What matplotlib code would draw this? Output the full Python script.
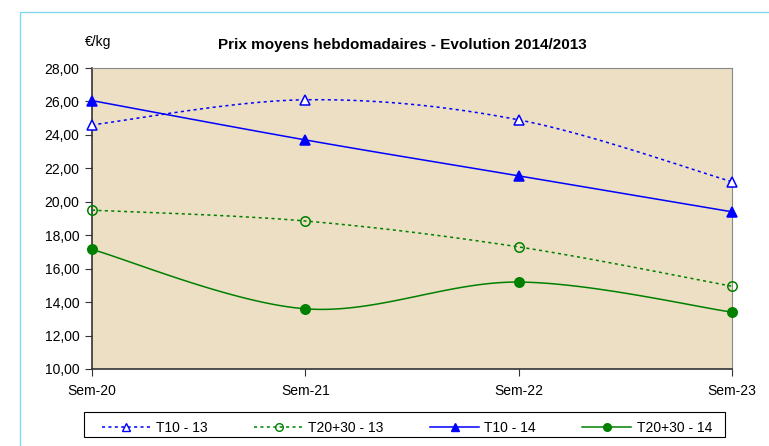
import numpy as np
import matplotlib.pyplot as plt
from matplotlib.patches import Rectangle
from matplotlib.lines import Line2D

plt.rcParams['font.family'] = ['Liberation Sans', 'DejaVu Sans']

weeks = ['Sem-20', 'Sem-21', 'Sem-22', 'Sem-23']
t10_13 = [24.6, 26.1, 24.9, 21.2]
t2030_13 = [19.5, 18.85, 17.3, 14.95]
t10_14 = [26.05, 23.7, 21.55, 19.4]
t2030_14 = [17.15, 13.6, 15.2, 13.4]

def smooth(y, n=40):
    # excel-like smoothed line (bezier through points)
    y = np.asarray(y, float)
    x = np.arange(len(y), dtype=float)
    P = np.column_stack([x, y])
    Pe = np.vstack([P[0], P, P[-1]])
    out = []
    t = np.linspace(0, 1, n)[:, None]
    for i in range(len(P) - 1):
        p0, p3 = Pe[i + 1], Pe[i + 2]
        c1 = p0 + (Pe[i + 2] - Pe[i]) / 6
        c2 = p3 - (Pe[i + 3] - Pe[i + 1]) / 6
        seg = (1 - t)**3 * p0 + 3 * (1 - t)**2 * t * c1 + 3 * (1 - t) * t**2 * c2 + t**3 * p3
        out.append(seg if i == 0 else seg[1:])
    out = np.vstack(out)
    return out[:, 0], out[:, 1]

fig = plt.figure(figsize=(7.69, 4.46), dpi=100)
# outer chart frame (only top and left edges fall inside the image)
fig.patches.append(Rectangle((20 / 769, -0.1), 1.1, 1 - 12 / 446 + 0.1,
                             transform=fig.transFigure, fill=False,
                             edgecolor='#7FD8F0', linewidth=1))
# legend box drawn by hand
fig.patches.append(Rectangle((84 / 769, 1 - 437 / 446), 641 / 769, 25 / 446,
                             transform=fig.transFigure, facecolor='white',
                             edgecolor='black', linewidth=0.8))
ax = fig.add_axes([92 / 769, 1 - 369 / 446, 640 / 769, 301 / 446])
ax.set_facecolor('#ECDFC3')

series = [
    (t10_13, 'T10 - 13', 'blue', (0, (2, 2.2)), '^', 'white'),
    (t2030_13, 'T20+30 - 13', 'green', (0, (2, 2.2)), 'o', 'none'),
    (t10_14, 'T10 - 14', 'blue', '-', '^', 'blue'),
    (t2030_14, 'T20+30 - 14', 'green', '-', 'o', 'green'),
]
x = np.arange(len(weeks))
handles = []
for vals, lab, col, ls, mk, fc in series:
    sx, sy = smooth(vals)
    ax.plot(sx, sy, color=col, linestyle=ls, linewidth=1.1, zorder=3)
    ax.plot(x, vals, linestyle='none', marker=mk, markersize=6.8,
            markerfacecolor=fc, markeredgecolor=col, markeredgewidth=1.1,
            zorder=4, clip_on=False)
    handles.append(Line2D([], [], color=col, linestyle=ls, linewidth=1.1,
                          marker=mk, markersize=5.5, markerfacecolor=fc,
                          markeredgecolor=col, markeredgewidth=1.0, label=lab))

ax.set_xlim(0, 3)
ax.set_ylim(10, 28)
ax.set_xticks(x)
ax.set_xticklabels(weeks)
ax.set_yticks(np.arange(10, 28.1, 2))
ax.set_yticklabels([f'{v:.2f}'.replace('.', ',') for v in np.arange(10, 28.1, 2)])
ax.tick_params(axis='both', labelsize=10, direction='out', length=5,
               color='#333333', pad=4)
ax.tick_params(axis='x', pad=6)
for s in ['left', 'bottom']:
    ax.spines[s].set_color('#333333')
    ax.spines[s].set_linewidth(1.2)
for s in ['top', 'right']:
    ax.spines[s].set_color('#888888')
    ax.spines[s].set_linewidth(0.8)

fig.text(402 / 769, 1 - 45 / 446, 'Prix moyens hebdomadaires - Evolution 2014/2013',
         ha='center', va='center', fontsize=11, fontweight='bold')
fig.text(98 / 769, 1 - 42 / 446, '€/kg', ha='center', va='center', fontsize=10)

leg = fig.legend(handles=handles, ncol=4, loc='lower left', mode='expand',
                 bbox_to_anchor=(102 / 769, 1 - 435 / 446, 610 / 769, 21 / 446),
                 fontsize=10, frameon=False, handlelength=3.5,
                 handletextpad=0.4, borderpad=0.0, borderaxespad=0)

fig.savefig('out.png', dpi=100)
